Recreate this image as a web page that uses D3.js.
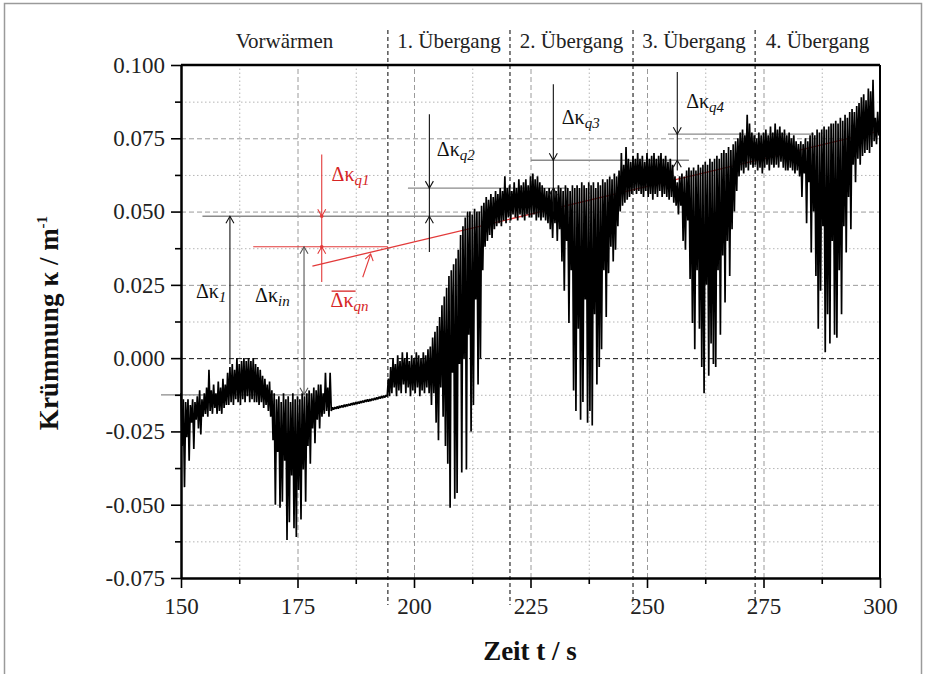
<!DOCTYPE html>
<html>
<head>
<meta charset="utf-8">
<script src="https://cdn.jsdelivr.net/npm/d3@7"></script>
<style>
    body { margin: 0; background: #fff; }
</style>
</head>
<body>
<div id="chart"></div>
<script>
// Achsen
var xTicks = [150, 175, 200, 225, 250, 275, 300];
var xMinor = [162.5, 187.5, 212.5, 237.5, 262.5, 287.5];
var yTicks = [-0.075, -0.05, -0.025, 0, 0.025, 0.05, 0.075, 0.1];
var yMinor = [-0.0625, -0.0375, -0.0125, 0.0125, 0.0375, 0.0625, 0.0875];

// Phasen (Grenzen in s)
var phaseBounds = [150, 194.4, 220.6, 247.0, 273.2, 300];
var phaseLabels = ["Vorwärmen", "1. Übergang", "2. Übergang", "3. Übergang", "4. Übergang"];

// Messwerte: Zeit ab 150 s, alle 0.25 s; Krümmung in 1e-3 1/m (eine Zeile = 5 s)
var zeitStart = 150, zeitSchritt = 0.25;
var kappaMilli = [
    -12, -30, -14, -44, -15, -27, -14, -35, -16, -22, -14, -31, -15, -21, -13, -24, -11, -26, -14, -20,   // 150
    -12, -19, -10, -20, -4, -18, -11, -19, -9, -17, -12, -19, -8, -18, -10, -19, -7, -17, -9, -16,        // 155
    -5, -16, -3, -15, -2, -16, -4, -14, 0, -15, -2, -16, -1, -14, 0, -15, -1, -13, 0, -15,                // 160
    -1, -14, 0, -15, -2, -15, -3, -16, -4, -15, -6, -17, -7, -16, -9, -18, -8, -20, -11, -28,             // 165
    -12, -50, -14, -32, -13, -51, -15, -49, -12, -35, -14, -62, -13, -56, -15, -40, -12, -58, -14, -61,   // 170
    -13, -45, -14, -55, -12, -38, -13, -49, -12, -30, -11, -36, -12, -24, -10, -29, -11, -21, -9, -24,    // 175
    -9, -20, -12, -19, -5, -18, -10, -20, -5, -18, -16.8, -17.6, -16.7, -17.3, -16.5, -17.2, -16.3, -16.9, -16.1, -16.8, // 180
    -15.9, -16.6, -15.8, -16.4, -15.6, -16.2, -15.4, -16.0, -15.2, -15.9, -15.0, -15.7, -14.9, -15.5, -14.7, -15.3, -14.5, -15.1, -14.3, -14.9, // 185
    -14.1, -14.8, -14.0, -14.6, -13.8, -14.4, -13.6, -14.2, -13.4, -14.0, -13.2, -13.8, -13.0, -13.6, -12.8, -13.4, -12.6, -13.1, -7, -13, // 190
    -3, -12, 0, -10, -2, -13, 1, -11, -1, -12, 2, -9, 0, -12, 2, -10, -1, -13, 1, -11,                    // 195
    0, -12, 2, -10, 1, -13, 0, -11, 2, -12, 1, -10, 3, -12, 4, -16, 7, -12, 9, -22,                       // 200
    11, -28, 14, -10, 18, -20, 21, -30, 24, -36, 28, -51, 30, -5, 32, -48, 34, -46, 37, -2,               // 205
    42, -39, 45, 0, 48, -38, 50, 8, 50, -25, 49, -16, 51, 20, 50, -9, 50, 0, 52, 30,                      // 210
    53, 38, 55, 40, 54, 42, 56, 41, 55, 44, 57, 45, 56, 46, 58, 45, 57, 47, 62, 46,                       // 215
    58, 48, 59, 47, 57, 49, 60, 48, 58, 47, 61, 49, 59, 48, 60, 47, 61, 49, 59, 48,                       // 220
    62, 48, 63, 49, 61, 47, 62, 48, 60, 47, 59, 48, 58, 47, 57, 46, 58, 44, 57, 41,                       // 225
    58, 46, 57, 40, 59, 44, 58, 33, 57, 23, 59, 40, 58, 12, 57, 30, 59, -11, 58, -18,                     // 230
    59, 10, 58, -21, 60, -15, 59, 20, 58, -22, 60, -18, 59, -23, 60, 15, 58, -9, 60, -3,                  // 235
    59, 3, 61, 30, 60, 14, 61, 29, 62, 38, 61, 33, 63, 37, 62, 45, 64, 50, 70, 52,                        // 240
    66, 53, 72, 54, 68, 55, 67, 56, 69, 57, 68, 56, 70, 57, 68, 56, 69, 55, 67, 57,                       // 245
    70, 55, 68, 56, 69, 54, 70, 56, 68, 55, 69, 57, 70, 55, 68, 56, 69, 55, 67, 54,                       // 250
    68, 55, 66, 53, 62, 52, 60, 49, 62, 52, 63, 40, 62, 37, 64, 47, 65, 27, 64, 12,                       // 255
    65, 3, 64, 30, 66, 10, 65, -3, 66, -12, 67, 25, 66, -6, 68, 5, 67, -2, 68, -3,                        // 260
    69, 30, 68, 8, 70, 35, 71, 19, 70, 40, 72, 28, 71, 44, 73, 50, 74, 57, 75, 62,                        // 265
    77, 64, 78, 63, 76, 65, 83, 64, 80, 66, 77, 65, 76, 66, 75, 64, 77, 65, 76, 63,                       // 270
    77, 65, 78, 66, 76, 64, 79, 66, 77, 65, 80, 66, 78, 65, 79, 67, 77, 65, 78, 64,                       // 275
    76, 64, 77, 65, 75, 64, 76, 63, 74, 64, 73, 62, 74, 55, 73, 63, 75, 46, 74, 60,                       // 280
    76, 36, 77, 50, 76, 28, 78, 10, 77, 23, 78, 45, 79, 2, 78, 15, 79, 5, 80, 40,                         // 285
    80, 8, 81, 7, 80, 30, 82, 15, 81, 45, 83, 36, 82, 55, 84, 44, 85, 66, 84, 60,                         // 290
    86, 68, 87, 66, 89, 69, 90, 70, 88, 71, 92, 70, 91, 72, 95, 74, 82, 73, 84, 76,                       // 295
    77                                                                                                  // 300
];

// Bezugsniveaus (Krümmung in 1/m)
var niveauLinien = [
    { von: 154.6, bis: 212.0, k: 0.0484 },
    { von: 145.7, bis: 177.5, k: -0.0125 },
    { von: 198.7, bis: 233.0, k: 0.058 },
    { von: 225.1, bis: 259.0, k: 0.0675 },
    { von: 254.5, bis: 285.8, k: 0.0764 }
];
var pfeilQ = [
    { sub: "q2", t: 203.3, oben: 0.0832, unten: 0.0362, alt: 0.0484, neu: 0.058, lt: 204.9, lk: 0.0689 },
    { sub: "q3", t: 229.9, oben: 0.0934, unten: 0.0500, alt: 0.058, neu: 0.0675, lt: 231.7, lk: 0.0800 },
    { sub: "q4", t: 256.5, oben: 0.0976, unten: 0.0640, alt: 0.0675, neu: 0.0764, lt: 258.4, lk: 0.0852 }
];
var trendRot = [[178.2, 0.0314], [300, 0.0775]];

var serif = '"Liberation Serif", "DejaVu Serif", serif';

function init() {
    d3.select("svg").remove();

    var width = 926, height = 674;
    var margin = { top: 65, right: 46, bottom: 96, left: 181 };
    var w = width - margin.left - margin.right;
    var h = height - margin.top - margin.bottom;
    var rot = "#e23a3a", rotText = "#d62525", grau = "#8a8a8a";

    var data = kappaMilli.map(function (v, i) {
        return { t: zeitStart + i * zeitSchritt, k: v / 1000 };
    });

    var x = d3.scaleLinear().domain([150, 300]).range([0, w]);
    var y = d3.scaleLinear().domain([-0.075, 0.1]).range([h, 0]);

    var root = d3.select("#chart")
        .append("svg")
        .attr("width", width)
        .attr("height", height);

    root.append("rect")
        .attr("x", 4.5).attr("y", 3.5)
        .attr("width", 917).attr("height", 690)
        .attr("fill", "none")
        .attr("stroke", "#9a9a9a")
        .attr("stroke-width", 1.5);

    var svg = root.append("g")
        .attr("transform", "translate(" + margin.left + "," + margin.top + ")");

    // Gitter
    function grid(g, axis, dash, color) {
        g.call(axis);
        g.select(".domain").remove();
        g.selectAll("line").attr("stroke", color).attr("stroke-dasharray", dash);
    }
    svg.append("g").call(grid, d3.axisLeft(y).tickValues(yMinor).tickSize(-w).tickFormat(""), "1.5,2.5", "#b5b5b5");
    svg.append("g").attr("transform", "translate(0," + h + ")")
        .call(grid, d3.axisBottom(x).tickValues(xMinor).tickSize(-h).tickFormat(""), "1.5,2.5", "#b5b5b5");
    svg.append("g").call(grid, d3.axisLeft(y).tickValues(yTicks.filter(function (d) { return d !== 0; })).tickSize(-w).tickFormat(""), "5,3", "#9a9a9a");
    svg.append("g").attr("transform", "translate(0," + h + ")")
        .call(grid, d3.axisBottom(x).tickValues(xTicks).tickSize(-h).tickFormat(""), "5,3", "#9a9a9a");
    svg.append("g").call(grid, d3.axisLeft(y).tickValues([0]).tickSize(-w).tickFormat(""), "5,3", "#111");

    // Phasengrenzen
    svg.selectAll(".phase")
        .data(phaseBounds.slice(1, -1))
        .enter()
        .append("line")
        .attr("x1", function (d) { return x(d); })
        .attr("x2", function (d) { return x(d); })
        .attr("y1", -35)
        .attr("y2", h + 27)
        .attr("stroke", "#000")
        .attr("stroke-dasharray", "4,3");

    svg.selectAll(".phaseLabel")
        .data(phaseLabels)
        .enter()
        .append("text")
        .attr("x", function (d, i) { return x((phaseBounds[i] + phaseBounds[i + 1]) / 2); })
        .attr("y", -17)
        .attr("text-anchor", "middle")
        .style("font-family", serif)
        .style("font-size", "21px")
        .attr("fill", "#222")
        .text(function (d) { return d; });

    // Niveaulinien unter den Messwerten
    svg.selectAll(".niveau")
        .data(niveauLinien)
        .enter()
        .append("line")
        .attr("x1", function (d) { return x(d.von); })
        .attr("x2", function (d) { return x(d.bis); })
        .attr("y1", function (d) { return y(d.k); })
        .attr("y2", function (d) { return y(d.k); })
        .attr("stroke", grau)
        .attr("stroke-width", 1.3);

    // rote Linien
    svg.append("line")
        .attr("x1", x(165.5)).attr("x2", x(194.4))
        .attr("y1", y(0.038)).attr("y2", y(0.038))
        .attr("stroke", rot).attr("stroke-width", 1.1);
    svg.append("path")
        .datum(trendRot)
        .attr("d", d3.line().x(function (d) { return x(d[0]); }).y(function (d) { return y(d[1]); }))
        .attr("stroke", rot)
        .attr("stroke-width", 1.3)
        .attr("fill", "none");

    // Messkurve
    svg.append("path")
        .datum(data)
        .attr("d", d3.line().x(function (d) { return x(d.t); }).y(function (d) { return y(d.k); }))
        .attr("fill", "none")
        .attr("stroke", "#000")
        .attr("stroke-width", 1.7)
        .attr("stroke-linejoin", "bevel");

    // Pfeile
    function kopf(t, k, nachOben, color) {
        var px = x(t), py = y(k), dy = nachOben ? 7 : -7;
        svg.append("path")
            .attr("d", "M" + (px - 4) + "," + (py + dy) + "L" + px + "," + py + "L" + (px + 4) + "," + (py + dy))
            .attr("fill", "none")
            .attr("stroke", color)
            .attr("stroke-width", 1.1);
    }
    function senkrecht(t, k1, k2, color) {
        svg.append("line")
            .attr("x1", x(t)).attr("x2", x(t))
            .attr("y1", y(k1)).attr("y2", y(k2))
            .attr("stroke", color)
            .attr("stroke-width", 1.1);
    }
    function label(t, k, sub, color, strich) {
        var txt = svg.append("text")
            .attr("x", x(t)).attr("y", y(k))
            .style("font-family", serif)
            .style("font-size", "20px")
            .attr("fill", color);
        txt.append("tspan").text("Δκ");
        txt.append("tspan")
            .style("font-size", "15px")
            .style("font-style", "italic")
            .attr("dy", 4)
            .text(sub);
        if (strich) {
            svg.append("line")
                .attr("x1", x(t) + 1).attr("x2", x(t) + 25)
                .attr("y1", y(k) - 16).attr("y2", y(k) - 16)
                .attr("stroke", color).attr("stroke-width", 1.3);
        }
    }

    senkrecht(160.5, 0.0484, -0.002, "#111");
    kopf(160.5, 0.0484, true, "#111");
    label(153.2, 0.0205, "1", "#111");

    senkrecht(176.4, 0.038, -0.0125, "#555");
    kopf(176.4, 0.038, true, "#555");
    kopf(176.4, -0.0125, false, "#555");
    label(165.9, 0.0191, "in", "#111");

    senkrecht(180.2, 0.0695, 0.026, rot);
    kopf(180.2, 0.0484, false, rot);
    kopf(180.2, 0.038, true, rot);
    svg.selectAll(".punkt")
        .data([0.0484, 0.038])
        .enter()
        .append("circle")
        .attr("cx", x(180.2))
        .attr("cy", function (d) { return y(d); })
        .attr("r", 1.8)
        .attr("fill", rot);
    label(182.3, 0.0603, "q1", rotText);

    svg.append("line")
        .attr("x1", x(189.0)).attr("y1", y(0.0276))
        .attr("x2", x(190.7)).attr("y2", y(0.0355))
        .attr("stroke", rot).attr("stroke-width", 1.1);
    svg.append("path")
        .attr("d", "M" + (x(190.7) - 5.5) + "," + (y(0.0355) + 5) + "L" + x(190.7) + "," + y(0.0355) + "L" + (x(190.7) + 2.5) + "," + (y(0.0355) + 7))
        .attr("fill", "none").attr("stroke", rot).attr("stroke-width", 1.1);
    label(182.1, 0.0174, "qn", rotText, true);

    pfeilQ.forEach(function (p) {
        senkrecht(p.t, p.oben, p.unten, "#111");
        kopf(p.t, p.neu, false, "#111");
        kopf(p.t, p.alt, true, "#111");
        label(p.lt, p.lk, p.sub, "#111");
    });

    // Achsen
    var fmt = function (d) { return d.toFixed(3); };
    var yAxis = svg.append("g")
        .call(d3.axisLeft(y).tickValues(yTicks).tickSize(10).tickSizeOuter(0).tickPadding(6).tickFormat(fmt));
    var yAxisMinor = svg.append("g")
        .call(d3.axisLeft(y).tickValues(yMinor).tickSize(6).tickSizeOuter(0).tickFormat(""));
    var xAxis = svg.append("g")
        .attr("transform", "translate(0," + h + ")")
        .call(d3.axisBottom(x).tickValues(xTicks).tickSize(10).tickSizeOuter(0).tickPadding(10));
    var xAxisMinor = svg.append("g")
        .attr("transform", "translate(0," + h + ")")
        .call(d3.axisBottom(x).tickValues(xMinor).tickSize(6).tickSizeOuter(0).tickFormat(""));

    [yAxis, yAxisMinor, xAxis, xAxisMinor].forEach(function (g) {
        g.select(".domain").attr("stroke-width", 2);
        g.selectAll(".tick line").attr("stroke-width", 1.6);
        g.selectAll("text")
            .style("font-family", serif)
            .style("font-size", "23px")
            .attr("fill", "#222");
    });

    svg.append("line")
        .attr("x1", 0).attr("x2", w).attr("y1", 0).attr("y2", 0)
        .attr("stroke", "#000").attr("stroke-width", 2.5);
    svg.append("line")
        .attr("x1", w).attr("x2", w).attr("y1", 0).attr("y2", h)
        .attr("stroke", "#000").attr("stroke-width", 2);

    // Achsentitel
    root.append("text")
        .attr("x", 530).attr("y", 660)
        .attr("text-anchor", "middle")
        .style("font-family", serif)
        .style("font-size", "27px")
        .style("font-weight", "bold")
        .attr("fill", "#111")
        .text("Zeit t / s");

    var yt = root.append("text")
        .attr("transform", "translate(58,323) rotate(-90)")
        .attr("text-anchor", "middle")
        .style("font-family", serif)
        .style("font-size", "27px")
        .style("font-weight", "bold")
        .attr("fill", "#111");
    yt.append("tspan").text("Krümmung κ / m");
    yt.append("tspan").style("font-size", "15px").attr("dy", -11).text("-1");
}

window.onload = init;
</script>
</body>
</html>
